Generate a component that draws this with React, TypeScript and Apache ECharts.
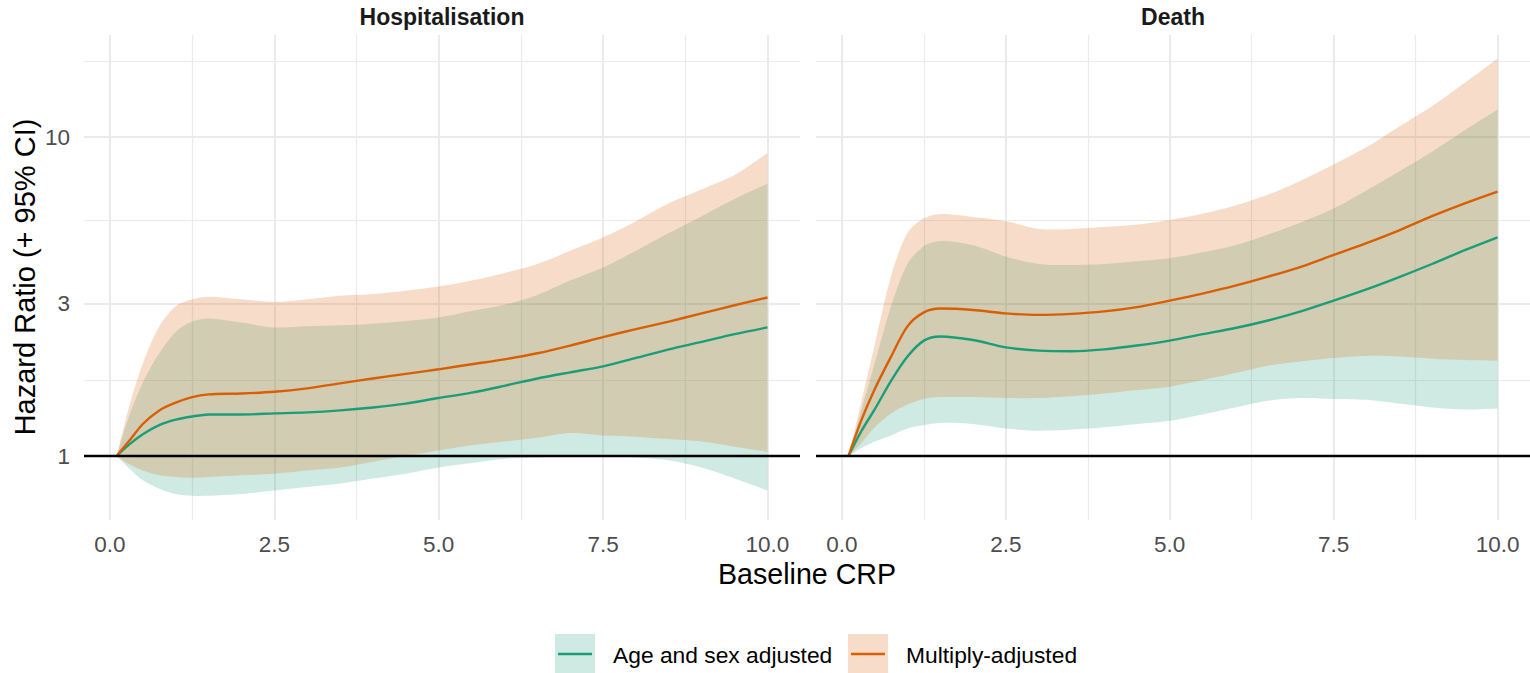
import React, { useEffect, useRef } from "react";
import * as echarts from "echarts";

// ---- data (hazard ratios) ----
const crp = [0.1, 0.3, 0.5, 0.75, 1.0, 1.25, 1.5, 2.0, 2.5, 3.0, 3.5, 4.0, 4.5, 5.0, 5.5, 6.0, 6.5, 7.0, 7.5, 8.0, 8.5, 9.0, 9.5, 10.0];

const hospAgeSexHR = [1.0, 1.09, 1.17, 1.25, 1.3, 1.33, 1.35, 1.35, 1.36, 1.37, 1.39, 1.42, 1.46, 1.52, 1.58, 1.66, 1.75, 1.83, 1.91, 2.03, 2.16, 2.28, 2.41, 2.53];
const hospAgeSexLo = [1.0, 0.91, 0.84, 0.79, 0.76, 0.75, 0.75, 0.76, 0.78, 0.8, 0.82, 0.85, 0.88, 0.92, 0.95, 0.98, 0.99, 1.0, 1.0, 0.99, 0.97, 0.92, 0.85, 0.78];
const hospAgeSexHi = [1.0, 1.35, 1.7, 2.1, 2.45, 2.64, 2.7, 2.62, 2.53, 2.55, 2.57, 2.6, 2.65, 2.72, 2.85, 2.98, 3.2, 3.55, 3.9, 4.4, 5.0, 5.65, 6.4, 7.14];
const hospMultiHR = [1.0, 1.12, 1.26, 1.39, 1.47, 1.53, 1.56, 1.57, 1.59, 1.63, 1.69, 1.75, 1.81, 1.87, 1.94, 2.01, 2.1, 2.22, 2.36, 2.5, 2.64, 2.8, 2.97, 3.14];
const hospMultiLo = [1.0, 0.94, 0.9, 0.87, 0.86, 0.855, 0.86, 0.87, 0.88, 0.9, 0.92, 0.96, 1.0, 1.04, 1.08, 1.11, 1.14, 1.18, 1.16, 1.15, 1.13, 1.11, 1.07, 1.03];
const hospMultiHi = [1.0, 1.45, 1.95, 2.55, 2.95, 3.1, 3.16, 3.1, 3.04, 3.1, 3.18, 3.22, 3.3, 3.4, 3.55, 3.75, 4.0, 4.4, 4.85, 5.45, 6.2, 6.85, 7.6, 8.9];

const deathAgeSexHR = [1.0, 1.2, 1.4, 1.72, 2.05, 2.3, 2.37, 2.31, 2.19, 2.14, 2.13, 2.16, 2.22, 2.3, 2.41, 2.52, 2.66, 2.84, 3.07, 3.33, 3.64, 4.0, 4.42, 4.85];
const deathAgeSexLo = [1.0, 1.06, 1.11, 1.16, 1.22, 1.25, 1.27, 1.26, 1.22, 1.2, 1.21, 1.23, 1.26, 1.29, 1.35, 1.42, 1.49, 1.52, 1.51, 1.5, 1.46, 1.42, 1.4, 1.41];
const deathAgeSexHi = [1.0, 1.4, 1.95, 2.95, 4.0, 4.55, 4.72, 4.58, 4.22, 4.0, 3.97, 4.0, 4.08, 4.17, 4.35, 4.58, 4.95, 5.4, 5.97, 6.8, 7.8, 9.0, 10.5, 12.2];
const deathMultiHR = [1.0, 1.3, 1.62, 2.05, 2.55, 2.82, 2.9, 2.87, 2.8, 2.77, 2.79, 2.84, 2.93, 3.07, 3.23, 3.42, 3.65, 3.92, 4.27, 4.65, 5.1, 5.65, 6.2, 6.75];
const deathMultiLo = [1.0, 1.1, 1.23, 1.36, 1.45, 1.51, 1.53, 1.53, 1.52, 1.52, 1.54, 1.57, 1.61, 1.65, 1.73, 1.82, 1.92, 1.98, 2.03, 2.06, 2.05, 2.02, 2.0, 1.99];
const deathMultiHi = [1.0, 1.49, 2.23, 3.67, 5.0, 5.56, 5.74, 5.62, 5.45, 5.15, 5.15, 5.22, 5.32, 5.5, 5.75, 6.1, 6.6, 7.3, 8.2, 9.3, 10.8, 12.5, 14.8, 17.6];

const facetTitles = ["Hospitalisation", "Death"];
const legendLabels = ["Age and sex adjusted", "Multiply-adjusted"];
const xMajorTicks = [0, 2.5, 5, 7.5, 10];
const xMinorTicks = [1.25, 3.75, 6.25, 8.75];
const yMajorTicks = [1, 3, 10];
const yMinorTicks = [Math.sqrt(3), Math.sqrt(30), Math.sqrt(300)];

// ---- styling ----
const GREEN = "#1B9E77";
const ORANGE = "#D95F02";
const GREEN_FILL = "rgba(27,158,119,0.21)";
const ORANGE_FILL = "rgba(217,95,2,0.21)";
const FONT = "'Liberation Sans', Arial, Helvetica, sans-serif";
const GRID_COLOR = "#ebebeb";
const SMOOTH = 0.3;

const lg = (v: number) => Math.log10(v);

// custom series: ribbon between lower and upper bounds, drawn as one polygon
function ribbonRenderItem(fill: string) {
  return (params: any, api: any) => {
    if (params.dataIndexInside !== 0) return null;
    const n = params.dataInsideLength;
    const upper: number[][] = [];
    const lower: number[][] = [];
    for (let i = 0; i < n; i++) {
      const x = api.value(0, i);
      upper.push(api.coord([x, api.value(2, i)]));
      lower.push(api.coord([x, api.value(1, i)]));
    }
    const lowerRev = lower.slice().reverse();
    // duplicate the right-edge corners so the smoothed outline keeps sharp corners
    const points = [...upper, upper[n - 1], lowerRev[0], ...lowerRev];
    return {
      type: "polygon",
      silent: true,
      shape: { points, smooth: SMOOTH },
      style: { fill },
    };
  };
}

export default function App() {
  const ref = useRef<HTMLDivElement>(null);

  useEffect(() => {
    if (!ref.current) return;
    const chart = echarts.init(ref.current, undefined, { renderer: "svg" });

    const facets = [
      { ageHR: hospAgeSexHR, ageLo: hospAgeSexLo, ageHi: hospAgeSexHi, mHR: hospMultiHR, mLo: hospMultiLo, mHi: hospMultiHi },
      { ageHR: deathAgeSexHR, ageLo: deathAgeSexLo, ageHi: deathAgeSexHi, mHR: deathMultiHR, mLo: deathMultiLo, mHi: deathMultiHi },
    ];

    const grids = [
      { left: 84, top: 35, width: 716, height: 485, outerBoundsMode: "none" },
      { left: 816, top: 35, width: 714, height: 485, outerBoundsMode: "none" },
    ];

    const xMin = -0.395;
    const xMax = 10.495;
    const yMin = -0.2006;
    const yMax = 1.32;

    const xAxes: any[] = [];
    const yAxes: any[] = [];
    grids.forEach((_, gi) => {
      xAxes.push({
        type: "value",
        gridIndex: gi,
        min: xMin,
        max: xMax,
        position: "bottom",
        axisLine: { show: false },
        axisTick: { show: false, customValues: xMajorTicks },
        axisLabel: {
          customValues: xMajorTicks,
          formatter: (v: number) => v.toFixed(1),
          color: "#4d4d4d",
          fontSize: 22.5,
          fontFamily: FONT,
          margin: 13,
        },
        splitLine: { show: true, lineStyle: { color: GRID_COLOR, width: 2 } },
      });
      xAxes.push({
        type: "value",
        gridIndex: gi,
        min: xMin,
        max: xMax,
        position: "top",
        axisLine: { show: false },
        axisTick: { show: false, customValues: xMinorTicks },
        axisLabel: { show: false, customValues: xMinorTicks },
        splitLine: { show: true, lineStyle: { color: GRID_COLOR, width: 1.2 } },
      });
      yAxes.push({
        type: "value",
        gridIndex: gi,
        min: yMin,
        max: yMax,
        position: "left",
        axisLine: { show: false },
        axisTick: { show: false, customValues: yMajorTicks.map(lg) },
        axisLabel: {
          show: gi === 0,
          customValues: yMajorTicks.map(lg),
          formatter: (v: number) => String(Math.round(Math.pow(10, v))),
          color: "#4d4d4d",
          fontSize: 22.5,
          fontFamily: FONT,
          margin: 14,
        },
        splitLine: { show: true, lineStyle: { color: GRID_COLOR, width: 2 } },
      });
      yAxes.push({
        type: "value",
        gridIndex: gi,
        min: yMin,
        max: yMax,
        position: "right",
        axisLine: { show: false },
        axisTick: { show: false, customValues: yMinorTicks.map(lg) },
        axisLabel: { show: false, customValues: yMinorTicks.map(lg) },
        splitLine: { show: true, lineStyle: { color: GRID_COLOR, width: 1.2 } },
      });
    });

    const series: any[] = [];
    facets.forEach((f, gi) => {
      const xi = gi * 2;
      const yi = gi * 2;
      const ribbon = (lo: number[], hi: number[], fill: string) => ({
        type: "custom",
        xAxisIndex: xi,
        yAxisIndex: yi,
        silent: true,
        renderItem: ribbonRenderItem(fill),
        encode: { x: 0, y: [1, 2] },
        data: crp.map((x, i) => [x, lg(lo[i]), lg(hi[i])]),
      });
      series.push(ribbon(f.ageLo, f.ageHi, GREEN_FILL));
      series.push(ribbon(f.mLo, f.mHi, ORANGE_FILL));
      series.push({
        type: "line",
        name: legendLabels[0],
        xAxisIndex: xi,
        yAxisIndex: yi,
        symbol: "none",
        smooth: SMOOTH,
        silent: true,
        lineStyle: { color: GREEN, width: 2.4 },
        data: crp.map((x, i) => [x, lg(f.ageHR[i])]),
      });
      series.push({
        type: "line",
        name: legendLabels[1],
        xAxisIndex: xi,
        yAxisIndex: yi,
        symbol: "none",
        smooth: SMOOTH,
        silent: true,
        lineStyle: { color: ORANGE, width: 2.4 },
        data: crp.map((x, i) => [x, lg(f.mHR[i])]),
        markLine: {
          silent: true,
          symbol: ["none", "none"],
          label: { show: false },
          lineStyle: { color: "#000000", width: 2.4, type: "solid" },
          data: [{ yAxis: lg(1) }],
        },
      });
    });

    const textBase = { fontFamily: FONT };
    const graphic: any[] = [
      {
        type: "text",
        x: 442,
        y: 17,
        style: { ...textBase, text: facetTitles[0], fontSize: 23, fontWeight: "bold", fill: "#1a1a1a", align: "center", verticalAlign: "middle" },
      },
      {
        type: "text",
        x: 1173,
        y: 17,
        style: { ...textBase, text: facetTitles[1], fontSize: 23, fontWeight: "bold", fill: "#1a1a1a", align: "center", verticalAlign: "middle" },
      },
      {
        type: "text",
        x: 25,
        y: 277,
        rotation: Math.PI / 2,
        style: { ...textBase, text: "Hazard Ratio (+ 95% CI)", fontSize: 29, fill: "#000000", align: "center", verticalAlign: "middle" },
      },
      {
        type: "text",
        x: 807,
        y: 574,
        style: { ...textBase, text: "Baseline CRP", fontSize: 28.6, fill: "#000000", align: "center", verticalAlign: "middle" },
      },
      // legend keys
      { type: "rect", shape: { x: 555, y: 634, width: 40, height: 40 }, style: { fill: GREEN_FILL } },
      { type: "line", shape: { x1: 558, y1: 654, x2: 592, y2: 654 }, style: { stroke: GREEN, lineWidth: 2.4 } },
      {
        type: "text",
        x: 613,
        y: 655,
        style: { ...textBase, text: legendLabels[0], fontSize: 22.8, fill: "#000000", align: "left", verticalAlign: "middle" },
      },
      { type: "rect", shape: { x: 848, y: 634, width: 40, height: 40 }, style: { fill: ORANGE_FILL } },
      { type: "line", shape: { x1: 851, y1: 654, x2: 885, y2: 654 }, style: { stroke: ORANGE, lineWidth: 2.4 } },
      {
        type: "text",
        x: 906,
        y: 655,
        style: { ...textBase, text: legendLabels[1], fontSize: 22.8, fill: "#000000", align: "left", verticalAlign: "middle" },
      },
    ];

    chart.setOption({
      animation: false,
      backgroundColor: "#ffffff",
      textStyle: { fontFamily: FONT },
      grid: grids,
      xAxis: xAxes,
      yAxis: yAxes,
      series,
      graphic,
    });

    return () => {
      chart.dispose();
    };
  }, []);

  return (
    <div
      ref={ref}
      style={{ position: "fixed", left: 0, top: 0, width: 1530, height: 673, background: "#ffffff" }}
    />
  );
}
